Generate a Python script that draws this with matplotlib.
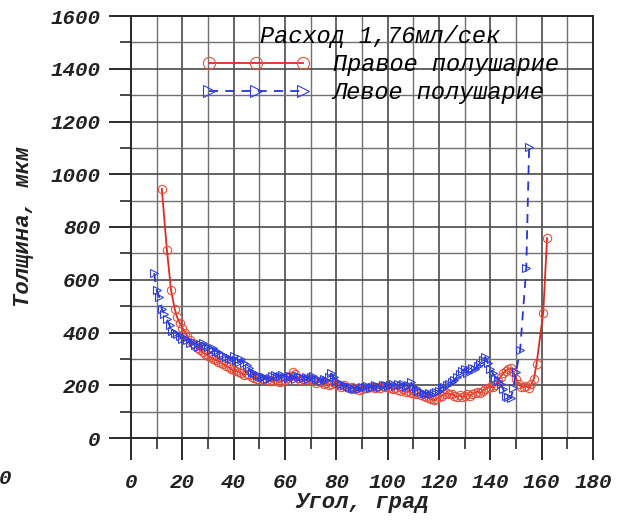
import matplotlib
matplotlib.use("Agg")
import matplotlib.pyplot as plt
from matplotlib.ticker import MultipleLocator
from matplotlib.font_manager import FontProperties

# Правое полушарие (красная линия, кружки)
right_x = [12, 14, 15.6, 17, 18, 19, 20, 21,
           22, 23, 24, 25, 26, 27, 28, 29, 30, 31,
           32, 33, 34, 35, 36, 37, 38, 39, 40, 41,
           42, 43, 44, 45, 46, 47, 48, 49, 50, 51,
           52, 53, 54, 55, 56, 57, 58, 59, 60, 61,
           62, 63, 64, 65, 66, 67, 68, 69, 70, 71,
           72, 73, 74, 75, 76, 77, 78, 79, 80, 81,
           82, 83, 84, 85, 86, 87, 88, 89, 90, 91,
           92, 93, 94, 95, 96, 97, 98, 99, 100, 101,
           102, 103, 104, 105, 106, 107, 108, 109, 110, 111,
           112, 113, 114, 115, 116, 117, 118, 119, 120, 121,
           122, 123, 124, 125, 126, 127, 128, 129, 130, 131,
           132, 133, 134, 135, 136, 137, 138, 139, 140, 141,
           142, 143, 144, 145, 146, 147, 148, 149, 150, 151,
           152, 153, 154, 155, 156, 157, 158, 160.6, 162.1]
right_y = [945, 712, 561, 490, 458, 436, 418, 400,
           385, 370, 360, 350, 340, 332, 325, 318, 312, 306,
           300, 296, 290, 285, 280, 274, 268, 262, 258, 254,
           250, 246, 240, 244, 238, 232, 228, 224, 230, 222,
           225, 220, 215, 218, 222, 215, 212, 218, 220, 226,
           236, 250, 242, 228, 220, 225, 218, 222, 225, 215,
           210, 218, 212, 205, 210, 200, 205, 210, 205, 200,
           195, 200, 192, 188, 195, 185, 190, 182, 185, 190,
           188, 195, 192, 188, 195, 190, 198, 192, 195, 190,
           185, 190, 182, 178, 185, 175, 178, 170, 172, 165,
           170, 162, 158, 155, 150, 146, 143, 148, 155, 160,
           166, 170, 165, 168, 160, 156, 162, 155, 160, 166,
           160, 168, 172, 176, 170, 180, 186, 190, 195, 192,
           200, 215, 232, 245, 255, 262, 265, 250, 225, 205,
           195, 192, 196, 190, 205, 225, 280, 474, 758]

# Левое полушарие (синяя пунктирная линия, треугольники)
left_x = [9, 10, 11, 12, 13, 14, 15, 16, 17, 18,
          19, 20, 21, 22, 23, 24, 25, 26, 27, 28,
          29, 30, 31, 32, 33, 34, 35, 36, 37, 38,
          39, 40, 41, 42, 43, 44, 45, 46, 47, 48,
          49, 50, 51, 52, 53, 54, 55, 56, 57, 58,
          59, 60, 61, 62, 63, 64, 65, 66, 67, 68,
          69, 70, 71, 72, 73, 74, 75, 76, 77, 78,
          79, 80, 81, 82, 83, 84, 85, 86, 87, 88,
          89, 90, 91, 92, 93, 94, 95, 96, 97, 98,
          99, 100, 101, 102, 103, 104, 105, 106, 107, 108,
          109, 110, 111, 112, 113, 114, 115, 116, 117, 118,
          119, 120, 121, 122, 123, 124, 125, 126, 127, 128,
          129, 130, 131, 132, 133, 134, 135, 136, 137, 138,
          139, 140, 141, 142, 143, 144, 145, 146, 147, 148,
          149, 150, 151.6, 154, 155.1]
left_y = [625, 560, 535, 490, 470, 450, 428, 405, 400, 395,
          385, 375, 380, 370, 360, 365, 352, 345, 355, 360,
          350, 345, 335, 340, 330, 325, 320, 315, 308, 305,
          300, 310, 296, 290, 300, 285, 275, 265, 250, 245,
          240, 235, 230, 232, 225, 228, 235, 240, 230, 235,
          238, 232, 228, 235, 230, 225, 235, 230, 228, 232,
          225, 230, 235, 225, 220, 215, 225, 220, 230, 245,
          230, 215, 210, 205, 200, 198, 195, 190, 185, 190,
          185, 192, 195, 198, 190, 195, 200, 198, 195, 200,
          202, 198, 200, 205, 198, 205, 200, 206, 195, 200,
          212, 195, 188, 180, 175, 170, 168, 172, 165, 170,
          175, 180, 190, 195, 200, 205, 212, 220, 232, 242,
          255, 262, 248, 256, 266, 260, 272, 282, 296, 307,
          285, 262, 245, 228, 215, 205, 185, 160, 155, 152,
          190, 250, 333, 644, 1103]

legend_title = "Расход 1,76мл/сек"
right_label = "Правое полушарие"
left_label = "Левое полушарие"

mono = "Liberation Mono"
tick_font = FontProperties(family=mono, style="italic", weight="bold", size=15)
label_font = FontProperties(family=mono, style="italic", weight="bold", size=16)
leg_font = FontProperties(family=mono, style="italic", size=17)

fig = plt.figure(figsize=(6.32, 5.21), dpi=100)
ax = fig.add_axes([131 / 632, 1 - 438 / 521, 462 / 632, 422 / 521])

ax.plot(right_x, right_y, color="#e02a1e", lw=1.3, marker="o", ms=6,
        mfc="none", mec="#e8503c", mew=0.8, label=right_label, zorder=3)
ax.plot(left_x, left_y, color="#2535d8", lw=1.3, ls=(0, (5, 4)), marker=">",
        ms=6, mfc="none", mec="#3040e0", mew=0.8, label=left_label, zorder=4)

ax.set_xlim(0, 180)
ax.set_ylim(0, 1600)
ax.xaxis.set_major_locator(MultipleLocator(20))
ax.xaxis.set_minor_locator(MultipleLocator(10))
ax.yaxis.set_major_locator(MultipleLocator(200))
ax.yaxis.set_minor_locator(MultipleLocator(100))

ax.grid(which="major", color="#4a4a4a", lw=1.2)
ax.grid(which="minor", color="#707070", lw=1.0)
ax.set_axisbelow(True)

for s in ax.spines.values():
    s.set_color("#2a2a2a")
    s.set_linewidth(1.4)

ax.tick_params(which="major", length=16, width=1.4, color="#2a2a2a")
ax.tick_params(which="minor", length=8, width=1.2, color="#2a2a2a")
ax.tick_params(axis="x", which="major", pad=9)
ax.tick_params(axis="y", which="major", pad=6)
for t in ax.get_xticklabels() + ax.get_yticklabels():
    t.set_fontproperties(tick_font)
    t.set_color("#222222")

ax.set_xlabel("Угол, град", fontproperties=label_font, color="#222222", labelpad=0)
ax.set_ylabel("Толщина, мкм", fontproperties=label_font, color="#222222", labelpad=12)

leg = ax.legend(title=legend_title, loc="upper center", bbox_to_anchor=(0.539, 1.007),
                frameon=False, numpoints=3, handlelength=4.6, handletextpad=0.95,
                labelspacing=0.22, borderpad=0, markerscale=1.45, prop=leg_font,
                title_fontproperties=leg_font)

# обрезанная подпись слева внизу
fig.text(5 / 632, 1 - 479 / 521, "0", fontproperties=tick_font, color="#222222",
         ha="center", va="center")

fig.savefig("out.png", dpi=100)
